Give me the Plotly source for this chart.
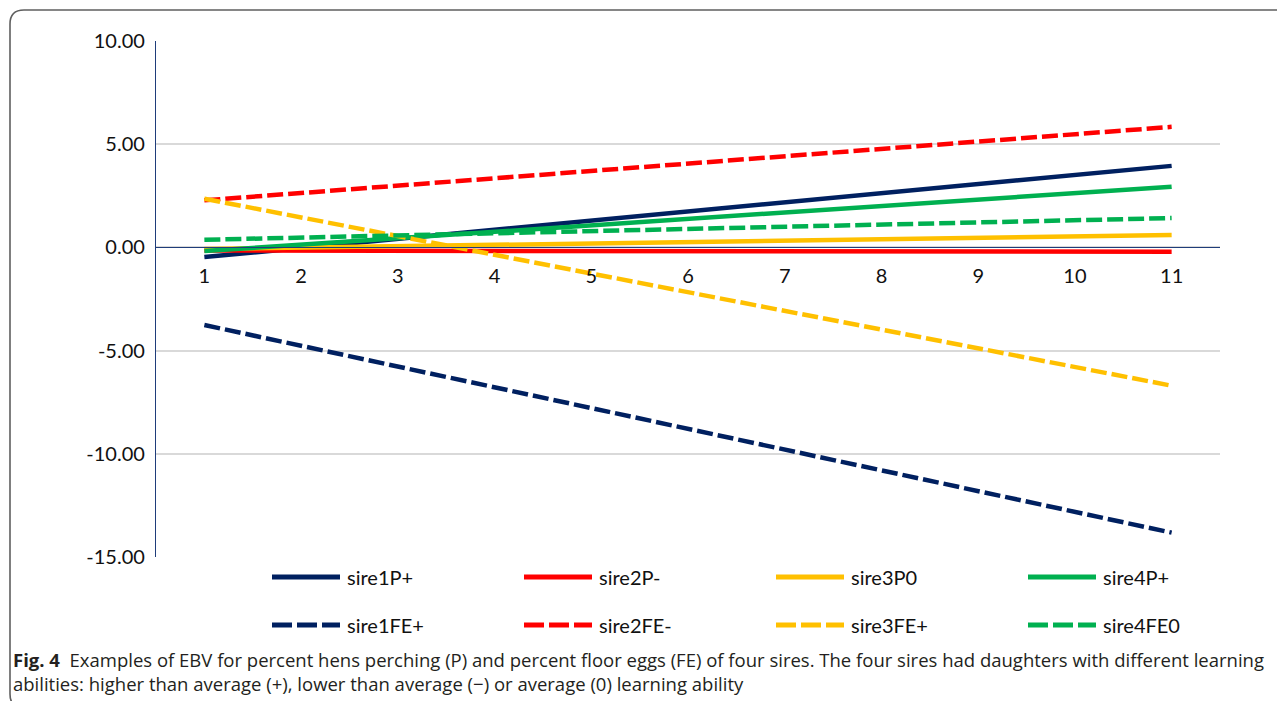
import plotly.graph_objects as go

# ---------------- data ----------------
x_ticks = [1, 2, 3, 4, 5, 6, 7, 8, 9, 10, 11]
x_ends = [1, 11]

series_names = ["sire1P+", "sire2P-", "sire3P0", "sire4P+",
                "sire1FE+", "sire2FE-", "sire3FE+", "sire4FE0"]
sire1P = [-0.47, 3.95]
sire2P = [-0.15, -0.21]
sire3P = [-0.08, 0.60]
sire4P = [-0.18, 2.94]
sire1FE = [-3.76, -13.82]
sire2FE = [2.28, 5.84]
sire3FE = [2.36, -6.70]
sire4FE = [0.37, 1.42]
series_values = [sire1P, sire2P, sire3P, sire4P, sire1FE, sire2FE, sire3FE, sire4FE]

y_tickvals = [10, 5, 0, -5, -10, -15]

caption_bold = "Fig. 4"
caption_line1 = ("Examples of EBV for percent hens perching (P) and percent floor eggs (FE) of four sires. "
                 "The four sires had daughters with different learning")
caption_line2 = "abilities: higher than average (+), lower than average (\u2212) or average (0) learning ability"

# ---------------- styles ----------------
colors = ["#002060", "#FF0000", "#FFC000", "#00B050"] * 2
dashes = ["solid"] * 4 + ["16px,5px"] * 4

W, H = 1285, 701          # page (screenshot) size
OX, OY = 8, 8             # page body margin in which the figure sits
L, R, T, B = 156, 1220, 41, 557   # plot area in page pixels


def px(xp):
    return (xp - L) / (R - L)


def py(yp):
    return (B - yp) / (B - T)


FONT = "Lato, Carlito, Calibri, 'Liberation Sans', sans-serif"
CAP_FONT = "'Open Sans', 'Noto Sans', sans-serif"
TXT = "#111111"

fig = go.Figure()
for name, vals, c, d in zip(series_names, series_values, colors, dashes):
    fig.add_trace(go.Scatter(
        x=x_ends, y=vals, mode="lines", name=name,
        line=dict(color=c, width=4.5, dash=d),
        showlegend=False, hoverinfo="name+y"))

fig.update_layout(
    width=W - OX, height=H - OY,
    margin=dict(l=L - OX, r=W - R, t=T - OY, b=H - B, pad=0),
    paper_bgcolor="white", plot_bgcolor="white",
    font=dict(family=FONT, size=20, color=TXT),
    xaxis=dict(
        range=[0.5, 11.5], tickvals=x_ticks, ticktext=[str(v) for v in x_ticks],
        anchor="free", position=0.6, showline=True, linecolor="#1F3D7A", linewidth=1.2,
        showgrid=False, zeroline=False, ticks="", ticklabelstandoff=10,
        tickfont=dict(family=FONT, size=20, color=TXT),
    ),
    yaxis=dict(
        range=[-15, 10], tickvals=y_tickvals, ticktext=[f"{v:.2f}" for v in y_tickvals],
        showline=True, linecolor="#1F3D7A", linewidth=1.2,
        showgrid=True, gridcolor="#D9D9D9", gridwidth=1.5, zeroline=False,
        ticks="", ticklabelstandoff=6,
        tickfont=dict(family=FONT, size=20, color=TXT),
    ),
)

# ---------------- legend (drawn manually, 2 rows x 4 columns) ----------------
col_x = [272, 524, 776, 1028]
row_y = [577, 625]
for i, (name, c, d) in enumerate(zip(series_names, colors, dashes)):
    r, k = divmod(i, 4)
    x0 = col_x[k]
    y0 = row_y[r]
    fig.add_shape(type="line", xref="paper", yref="paper",
                  x0=px(x0), x1=px(x0 + 68), y0=py(y0), y1=py(y0),
                  line=dict(color=c, width=5, dash="solid" if d == "solid" else "20px,5px"))
    fig.add_annotation(xref="paper", yref="paper", x=px(x0 + 73),
                       y=py(y0), text=name, showarrow=False, xanchor="left", yanchor="middle",
                       font=dict(family=FONT, size=20, color=TXT))

# ---------------- caption ----------------
fig.add_annotation(xref="paper", yref="paper", x=px(11), y=py(659),
                   text="<b>" + caption_bold + "</b>\u00a0\u00a0" + caption_line1,
                   showarrow=False, xanchor="left", yanchor="middle",
                   font=dict(family=CAP_FONT, size=18.5, color="#231F20"))
fig.add_annotation(xref="paper", yref="paper", x=px(11), y=py(683),
                   text=caption_line2,
                   showarrow=False, xanchor="left", yanchor="middle",
                   font=dict(family=CAP_FONT, size=18.5, color="#231F20"))

# ---------------- rounded frame (top-left and bottom-left corners) ----------------
xl, xr, yt, yb, rad = 10, 1295, 10, 708, 14
path = (f"M {px(xr)},{py(yt)} L {px(xl + rad)},{py(yt)} "
        f"Q {px(xl)},{py(yt)} {px(xl)},{py(yt + rad)} "
        f"L {px(xl)},{py(yb - rad)} Q {px(xl)},{py(yb)} {px(xl + rad)},{py(yb)}")
fig.add_shape(type="path", xref="paper", yref="paper", path=path,
              line=dict(color="#5F5F5F", width=1.6))

fig.write_html("out.html")
